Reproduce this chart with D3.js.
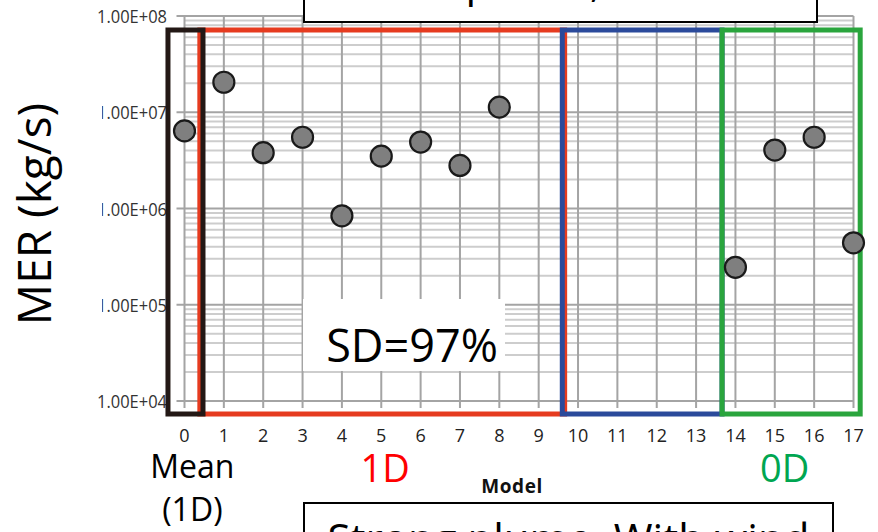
<!DOCTYPE html>
<html>
<head>
<meta charset="utf-8">
<script src="https://cdn.jsdelivr.net/npm/d3@7"></script>
<style>
	body { margin: 0; background: #fff; }
	svg { display: block; }
	text { font-family: "Open Sans", "Noto Sans", sans-serif; }
</style>
</head>
<body>
<svg id="mySVG"></svg>
<script>

// model number on x, mass eruption rate on y
var models = [0, 1, 2, 3, 4, 5, 6, 7, 8, 14, 15, 16, 17];
var merValues = [6.4e6, 2.05e7, 3.8e6, 5.5e6, 8.4e5, 3.5e6, 4.9e6, 2.8e6, 1.13e7, 2.45e5, 4.05e6, 5.5e6, 4.4e5];

var xTicks = d3.range(0, 18);
var yTicks = [1e4, 1e5, 1e6, 1e7, 1e8];
var yTickLabels = ["1.00E+04", "1.00E+05", "1.00E+06", "1.00E+07", "1.00E+08"];

// coloured frames round the model groups (x in model units)
var groupNames = ["1D", "Mean", "0D-blue", "0D"];
var groupFrom = [0.39, -0.42, 9.6, 13.66];
var groupTo = [9.66, 0.47, 13.66, 17.17];
var groupColors = ["#e63b1f", "#231815", "#2b4a9b", "#2aa53d"];

var size = {width: 878, height: 532};
var plot = {left: 184.5, right: 853.5, top: 16, bottom: 401};

var svg = d3.select('#mySVG')
	.attr('width', size.width)
	.attr('height', size.height);

svg.append('rect')
	.attr('width', size.width)
	.attr('height', size.height)
	.attr('fill', '#fff');

var x = d3.scaleLinear().domain([0, 17]).range([plot.left, plot.right]);
var y = d3.scaleLog().domain([1e4, 1e8]).range([plot.bottom, plot.top]);

// minor log gridlines first, majors on top
var minorTicks = y.ticks().filter(t => yTicks.indexOf(t) < 0);

svg.append('g')
	.selectAll('line')
	.data(minorTicks)
	.enter().append('line')
	.attr('x1', plot.left)
	.attr('x2', plot.right)
	.attr('y1', d => y(d))
	.attr('y2', d => y(d))
	.attr('stroke', '#cdcdcd')
	.attr('stroke-width', 2);

svg.append('g')
	.selectAll('line')
	.data(yTicks)
	.enter().append('line')
	.attr('x1', plot.left - 8)
	.attr('x2', plot.right)
	.attr('y1', d => y(d))
	.attr('y2', d => y(d))
	.attr('stroke', '#a4a4a4')
	.attr('stroke-width', 2);

svg.append('g')
	.selectAll('line')
	.data(xTicks)
	.enter().append('line')
	.attr('x1', d => x(d))
	.attr('x2', d => x(d))
	.attr('y1', plot.top)
	.attr('y2', plot.bottom + 7)
	.attr('stroke', '#a4a4a4')
	.attr('stroke-width', 2);

// tick labels
svg.append('g')
	.selectAll('text')
	.data(xTicks)
	.enter().append('text')
	.attr('x', d => x(d))
	.attr('y', 442)
	.attr('text-anchor', 'middle')
	.attr('font-size', '18px')
	.attr('fill', '#222')
	.text(d => d);

// narrow labels, squeezed to the width they have in the picture
svg.append('g')
	.selectAll('text')
	.data(yTicks)
	.enter().append('text')
	.attr('x', 97)
	.attr('y', d => y(d) + 7)
	.attr('font-size', '19px')
	.attr('textLength', 70)
	.attr('lengthAdjust', 'spacingAndGlyphs')
	.attr('fill', '#333')
	.text((d, i) => yTickLabels[i]);

// group frames
var frameTop = plot.top + 14;
var frameBottom = plot.bottom + 13;

svg.append('g')
	.selectAll('rect')
	.data(groupNames)
	.enter().append('rect')
	.attr('x', (d, i) => x(groupFrom[i]))
	.attr('y', frameTop)
	.attr('width', (d, i) => x(groupTo[i]) - x(groupFrom[i]))
	.attr('height', frameBottom - frameTop)
	.attr('fill', 'none')
	.attr('stroke', (d, i) => groupColors[i])
	.attr('stroke-width', 5);

// the points
svg.append('g')
	.selectAll('circle')
	.data(merValues)
	.enter().append('circle')
	.attr('cx', (d, i) => x(models[i]))
	.attr('cy', d => y(d))
	.attr('r', 10.5)
	.attr('fill', '#7f7f7f')
	.attr('stroke', '#1a1a1a')
	.attr('stroke-width', 2.2);

// white box of the y title, it hides the left of some labels
svg.append('rect')
	.attr('x', 0)
	.attr('y', 40)
	.attr('width', 102)
	.attr('height', 340)
	.attr('fill', '#fff');

svg.append('text')
	.attr('transform', 'translate(51,214) rotate(-90)')
	.attr('text-anchor', 'middle')
	.attr('font-size', '46px')
	.attr('fill', '#000')
	.text('MER (kg/s)');

// x title
svg.append('text')
	.attr('x', 512)
	.attr('y', 493)
	.attr('text-anchor', 'middle')
	.attr('font-family', 'DejaVu Sans')
	.attr('font-weight', 'bold')
	.attr('font-size', '19px')
	.attr('letter-spacing', '0.6px')
	.attr('fill', '#111')
	.text('Model');

// group labels under the axis
svg.append('text')
	.attr('x', x(0.2))
	.attr('y', 478)
	.attr('text-anchor', 'middle')
	.attr('font-size', '32px')
	.text('Mean');

svg.append('text')
	.attr('x', x(0.2))
	.attr('y', 521)
	.attr('text-anchor', 'middle')
	.attr('font-size', '32px')
	.text('(1D)');

svg.append('text')
	.attr('x', x(5.1))
	.attr('y', 482)
	.attr('text-anchor', 'middle')
	.attr('font-size', '38px')
	.attr('fill', '#ff0000')
	.text('1D');

svg.append('text')
	.attr('x', x(15.25))
	.attr('y', 482)
	.attr('text-anchor', 'middle')
	.attr('font-size', '38px')
	.attr('fill', '#00a651')
	.text('0D');

// SD note
svg.append('rect')
	.attr('x', 303)
	.attr('y', 299)
	.attr('width', 202)
	.attr('height', 72)
	.attr('fill', '#fff');

svg.append('text')
	.attr('x', 412)
	.attr('y', 362)
	.attr('text-anchor', 'middle')
	.attr('font-size', '45px')
	.text('SD=97%');

// text boxes cut by the edges of the picture
var _makeCutBox = function(left, right, top, bottom, baseline, label) {
	svg.append('rect')
		.attr('x', left)
		.attr('y', top)
		.attr('width', right - left)
		.attr('height', bottom - top)
		.attr('fill', '#fff')
		.attr('stroke', '#000')
		.attr('stroke-width', 2);
	svg.append('text')
		.attr('x', (left + right) / 2)
		.attr('y', baseline)
		.attr('text-anchor', 'middle')
		.attr('font-size', '42px')
		.text(label);
};

_makeCutBox(304, 817, -20, 22, -3, 'Weak plume, No wind');
_makeCutBox(304, 833, 503, 580, 554, 'Strong plume, With wind');

</script>
</body>
</html>
